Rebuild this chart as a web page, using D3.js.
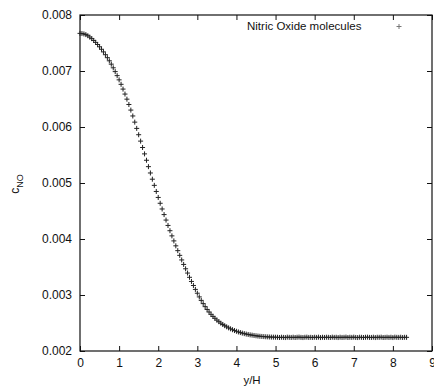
<!DOCTYPE html>
<html>
<head>
<meta charset="utf-8">
<script src="https://cdn.jsdelivr.net/npm/d3@7/dist/d3.min.js"></script>
<style>
  html, body { margin: 0; padding: 0; background: #fff; }
  svg { display: block; }
  text { font-family: "Liberation Sans", Arial, sans-serif; fill: #111; }
</style>
</head>
<body>
<script>
// Normalised wall distance y/H
const yH = [
  0.00,0.05,0.10,0.15,0.20,0.25,0.30,0.35,0.40,0.45,0.50,0.55,0.60,0.65,0.70,0.75,0.80,0.85,0.90,0.95,
  1.00,1.05,1.10,1.15,1.20,1.25,1.30,1.35,1.40,1.45,1.50,1.55,1.60,1.65,1.70,1.75,1.80,1.85,1.90,1.95,
  2.00,2.05,2.10,2.15,2.20,2.25,2.30,2.35,2.40,2.45,2.50,2.55,2.60,2.65,2.70,2.75,2.80,2.85,2.90,2.95,
  3.00,3.05,3.10,3.15,3.20,3.25,3.30,3.35,3.40,3.45,3.50,3.55,3.60,3.65,3.70,3.75,3.80,3.85,3.90,3.95,
  4.00,4.05,4.10,4.15,4.20,4.25,4.30,4.35,4.40,4.45,4.50,4.55,4.60,4.65,4.70,4.75,4.80,4.85,4.90,4.95,
  5.00,5.05,5.10,5.15,5.20,5.25,5.30,5.35,5.40,5.45,5.50,5.55,5.60,5.65,5.70,5.75,5.80,5.85,5.90,5.95,
  6.00,6.05,6.10,6.15,6.20,6.25,6.30,6.35,6.40,6.45,6.50,6.55,6.60,6.65,6.70,6.75,6.80,6.85,6.90,6.95,
  7.00,7.05,7.10,7.15,7.20,7.25,7.30,7.35,7.40,7.45,7.50,7.55,7.60,7.65,7.70,7.75,7.80,7.85,7.90,7.95,
  8.00,8.05,8.10,8.15,8.20,8.25,8.30,8.35
];

// Nitric oxide concentration c_NO at each y/H
const cNO = [
  0.007672,0.007669,0.007662,0.007650,0.007630,0.007606,0.007578,0.007546,0.007511,0.007473,
  0.007432,0.007388,0.007341,0.007291,0.007238,0.007182,0.007122,0.007057,0.006989,0.006917,
  0.006842,0.006762,0.006677,0.006588,0.006497,0.006402,0.006302,0.006197,0.006087,0.005975,
  0.005862,0.005748,0.005634,0.005520,0.005406,0.005292,0.005179,0.005068,0.004958,0.004849,
  0.004742,0.004638,0.004536,0.004436,0.004338,0.004242,0.004148,0.004056,0.003966,0.003878,
  0.003792,0.003708,0.003626,0.003546,0.003468,0.003392,0.003316,0.003242,0.003170,0.003100,
  0.003032,0.002966,0.002904,0.002846,0.002792,0.002742,0.002696,0.002655,0.002618,0.002584,
  0.002552,0.002523,0.002497,0.002474,0.002452,0.002432,0.002413,0.002396,0.002380,0.002365,
  0.002352,0.002340,0.002329,0.002319,0.002310,0.002302,0.002295,0.002288,0.002283,0.002277,
  0.002272,0.002267,0.002263,0.002260,0.002257,0.002254,0.002252,0.002250,0.002248,0.002247,
  0.002246,0.002245,0.002241,0.002246,0.002243,0.002240,0.002247,0.002244,0.002242,0.002246,
  0.002241,0.002245,0.002248,0.002243,0.002240,0.002245,0.002247,0.002242,0.002244,0.002241,
  0.002246,0.002243,0.002247,0.002240,0.002245,0.002242,0.002246,0.002244,0.002241,0.002247,
  0.002243,0.002245,0.002240,0.002246,0.002242,0.002244,0.002248,0.002241,0.002245,0.002243,
  0.002247,0.002242,0.002240,0.002246,0.002244,0.002241,0.002245,0.002247,0.002243,0.002242,
  0.002246,0.002240,0.002245,0.002244,0.002247,0.002241,0.002243,0.002246,0.002242,0.002245,
  0.002240,0.002247,0.002244,0.002243,0.002246,0.002241,0.002245,0.002244
];

const xTicks = [0,1,2,3,4,5,6,7,8,9];
const yTicks = [0.002,0.003,0.004,0.005,0.006,0.007,0.008];
const seriesName = "Nitric Oxide molecules";

const W = 434, H = 386;
const plotL = 80, plotR = 432, plotT = 15, plotB = 351;

const svg = d3.select("body").append("svg")
  .attr("width", W).attr("height", H);
svg.append("rect").attr("width", W).attr("height", H).attr("fill", "#fff");

const x = d3.scaleLinear().domain([0, 9]).range([plotL, plotR]);
const y = d3.scaleLinear().domain([0.002, 0.008]).range([plotB, plotT]);

const tickFont = "12px";

function styleAxis(g, showText) {
  g.select(".domain").remove();
  g.selectAll(".tick line").attr("stroke", "#111").attr("stroke-width", 1);
  g.selectAll(".tick text").style("font-size", tickFont).attr("fill", "#111");
  if (!showText) g.selectAll(".tick text").remove();
}

svg.append("g").attr("transform", `translate(0,${plotB})`)
  .call(d3.axisBottom(x).tickValues(xTicks).tickSize(-5).tickPadding(7).tickFormat(d3.format("d")))
  .call(g => styleAxis(g, true));
svg.append("g").attr("transform", `translate(0,${plotT})`)
  .call(d3.axisTop(x).tickValues(xTicks).tickSize(-5))
  .call(g => styleAxis(g, false));
svg.append("g").attr("transform", `translate(${plotL},0)`)
  .call(d3.axisLeft(y).tickValues(yTicks).tickSize(-5).tickPadding(8).tickFormat(d3.format(".3f")))
  .call(g => styleAxis(g, true));
svg.append("g").attr("transform", `translate(${plotR},0)`)
  .call(d3.axisRight(y).tickValues(yTicks).tickSize(-5))
  .call(g => styleAxis(g, false));

// Plot frame
svg.append("rect")
  .attr("x", plotL).attr("y", plotT)
  .attr("width", plotR - plotL).attr("height", plotB - plotT)
  .attr("fill", "none").attr("stroke", "#111").attr("stroke-width", 1.2);

// Cross markers
const arm = 2.5;
function plus(sel) {
  sel.append("path")
    .attr("d", `M${-arm},0H${arm}M0,${-arm}V${arm}`)
    .attr("stroke", "#222").attr("stroke-width", 1).attr("fill", "none");
}

const pts = svg.append("g");
yH.forEach((v, i) => {
  pts.append("g")
    .attr("transform", `translate(${x(v)},${y(cNO[i])})`)
    .call(plus);
});

// Legend
svg.append("text")
  .attr("x", 247).attr("y", 27)
  .attr("dominant-baseline", "middle")
  .style("font-size", "11.5px")
  .text(seriesName);
svg.append("g").attr("transform", "translate(399,26.5)").call(plus)
  .selectAll("path").attr("stroke", "#777");

// Axis titles
svg.append("text")
  .attr("x", 252).attr("y", 384)
  .attr("text-anchor", "middle")
  .style("font-size", "11.5px")
  .text("y/H");

const yl = svg.append("text")
  .attr("transform", "translate(19,184) rotate(-90)")
  .attr("text-anchor", "middle")
  .style("font-size", "12px");
yl.append("tspan").text("c");
yl.append("tspan").attr("dy", 4).style("font-size", "9px").text("NO");
</script>
</body>
</html>
